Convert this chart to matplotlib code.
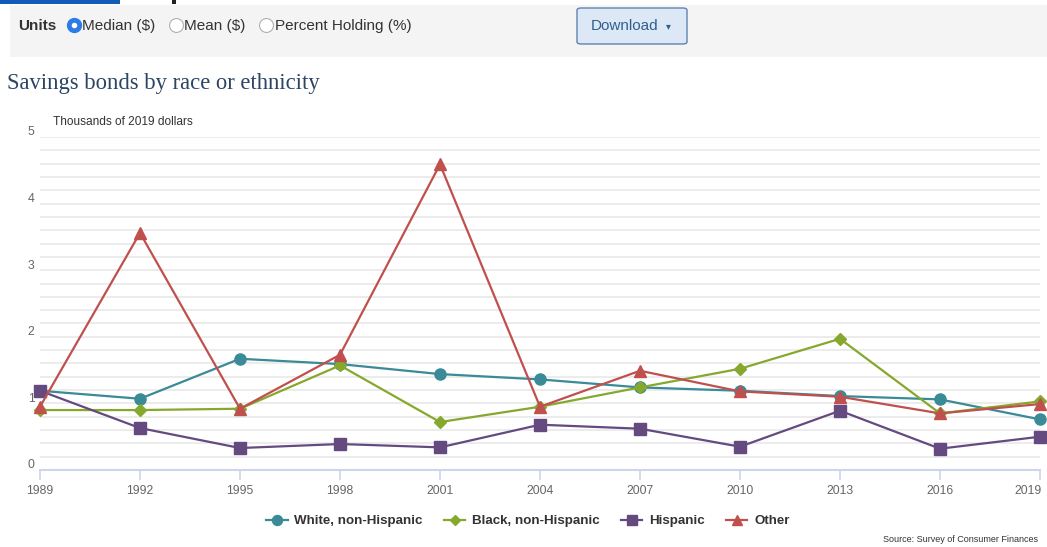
import numpy as np
import matplotlib
matplotlib.use("Agg")
import matplotlib.pyplot as plt
import matplotlib.transforms as mtransforms
from matplotlib.patches import Rectangle, FancyBboxPatch
from matplotlib.lines import Line2D

plt.rcParams['font.family'] = ['Liberation Sans', 'DejaVu Sans']

# Data (thousands of 2019 dollars, median)
years = [1989, 1992, 1995, 1998, 2001, 2004, 2007, 2010, 2013, 2016, 2019]
white = [1.19, 1.07, 1.67, 1.59, 1.44, 1.36, 1.24, 1.19, 1.11, 1.06, 0.76]
black = [0.90, 0.90, 0.92, 1.57, 0.72, 0.95, 1.24, 1.52, 1.97, 0.85, 1.03]
hispanic = [1.19, 0.63, 0.33, 0.39, 0.34, 0.68, 0.62, 0.35, 0.89, 0.32, 0.50]
other = [0.95, 3.56, 0.92, 1.73, 4.59, 0.95, 1.49, 1.18, 1.10, 0.85, 0.99]

series_names = ["White, non-Hispanic", "Black, non-Hispanic", "Hispanic", "Other"]
series_colors = ["#3a8a98", "#86a82c", "#654a80", "#c0504d"]
series_markers = ["o", "D", "s", "^"]
series_sizes = [8, 6, 8, 8]

W, H = 1047, 547
fig = plt.figure(figsize=(W / 100, H / 100), dpi=100)

def fx(px):
    return px / W

def fy(py):
    return 1 - py / H

def radio(px, py, checked):
    # radio button drawn as a marker so it stays round
    if checked:
        fig.add_artist(Line2D([fx(px)], [fy(py)], marker="o", markersize=10,
                              markerfacecolor="#2f7be6", markeredgecolor="#2f7be6",
                              transform=fig.transFigure))
        fig.add_artist(Line2D([fx(px)], [fy(py)], marker="o", markersize=3,
                              markerfacecolor="white", markeredgecolor="white",
                              transform=fig.transFigure))
    else:
        fig.add_artist(Line2D([fx(px)], [fy(py)], marker="o", markersize=10,
                              markerfacecolor="white", markeredgecolor="#b0b0b0",
                              markeredgewidth=0.8, transform=fig.transFigure))

# Top control bar
fig.patches.append(Rectangle((fx(10), fy(57)), fx(1037), 52 / H, transform=fig.transFigure,
                             facecolor="#f4f4f4", edgecolor="none"))
fig.patches.append(Rectangle((0, fy(4)), fx(120), 4 / H, transform=fig.transFigure,
                             facecolor="#0f5bb5", edgecolor="none"))
fig.patches.append(Rectangle((fx(172), fy(4)), fx(4), 4 / H, transform=fig.transFigure,
                             facecolor="#222222", edgecolor="none"))
fig.text(fx(18), fy(26), "Units", fontsize=11, fontweight="bold", color="#333333", va="center")
radio(74, 25, True)
fig.text(fx(82), fy(26), "Median ($)", fontsize=11, color="#333333", va="center")
radio(176, 25, False)
fig.text(fx(184), fy(26), "Mean ($)", fontsize=11, color="#333333", va="center")
radio(266, 25, False)
fig.text(fx(275), fy(26), "Percent Holding (%)", fontsize=11, color="#333333", va="center")
fig.patches.append(FancyBboxPatch((fx(577), fy(44)), fx(110), 36 / H, transform=fig.transFigure,
                                  boxstyle="round,pad=0,rounding_size=0.004",
                                  facecolor="#dde8f6", edgecolor="#5f83ad", lw=1))
fig.text(fx(625), fy(26), "Download", fontsize=11, color="#2f5f8f", va="center", ha="center")
fig.text(fx(668), fy(26), "\u25be", fontsize=7, color="#2f5f8f", va="center", ha="center",
         family=["DejaVu Sans"])

# Title
fig.text(fx(7), fy(83), "Savings bonds by race or ethnicity", fontsize=16.3,
         family=["Liberation Serif", "DejaVu Serif"], color="#2c4563", va="center")

# Plot area
ax = fig.add_axes([fx(40), fy(470), fx(1000), 333 / H])
for vals, name, c, m, s in zip([white, black, hispanic, other], series_names,
                               series_colors, series_markers, series_sizes):
    ax.plot(years, vals, color=c, lw=1.6, marker=m, markersize=s, label=name, clip_on=False)

ax.set_xlim(1989, 2019)
ax.set_ylim(0, 5)
ax.set_xticks(years)
ax.set_xticklabels([str(y) for y in years])
ax.set_yticks(np.arange(0, 6, 1))
ax.set_yticks(np.arange(0, 5.01, 0.2), minor=True)
ax.grid(True, which="both", axis="y", color="#ebebeb", lw=1.3)
ax.set_axisbelow(True)
for sp in ["top", "right", "left"]:
    ax.spines[sp].set_visible(False)
ax.spines["bottom"].set_color("#ccd6eb")
ax.spines["bottom"].set_linewidth(1.5)
ax.tick_params(axis="x", colors="#ccd6eb", length=7, width=1.2, labelcolor="#666666",
               labelsize=8.8, pad=4)
ax.tick_params(axis="y", which="both", length=0, labelcolor="#666666", labelsize=8.8, pad=4)
offset = mtransforms.ScaledTranslation(0, 6 / 100, fig.dpi_scale_trans)
for lab in ax.get_yticklabels():
    lab.set_transform(lab.get_transform() + offset)
last = ax.get_xticklabels()[-1]
last.set_horizontalalignment("right")
last.set_transform(last.get_transform() + mtransforms.ScaledTranslation(2 / 100, 0, fig.dpi_scale_trans))

fig.text(fx(53), fy(122), "Thousands of 2019 dollars", fontsize=8.6, color="#333333", va="center")

# Legend and source
fig.legend(loc="center", bbox_to_anchor=(fx(528), fy(521)), ncol=4, frameon=False,
           prop={"weight": "bold", "size": 9.6}, labelcolor="#333333",
           handlelength=1.6, columnspacing=1.6, handletextpad=0.5, markerscale=0.9)
fig.text(fx(1038), fy(540), "Source: Survey of Consumer Finances", fontsize=6.5,
         color="#333333", ha="right", va="center")

fig.savefig("out.png", dpi=100)
